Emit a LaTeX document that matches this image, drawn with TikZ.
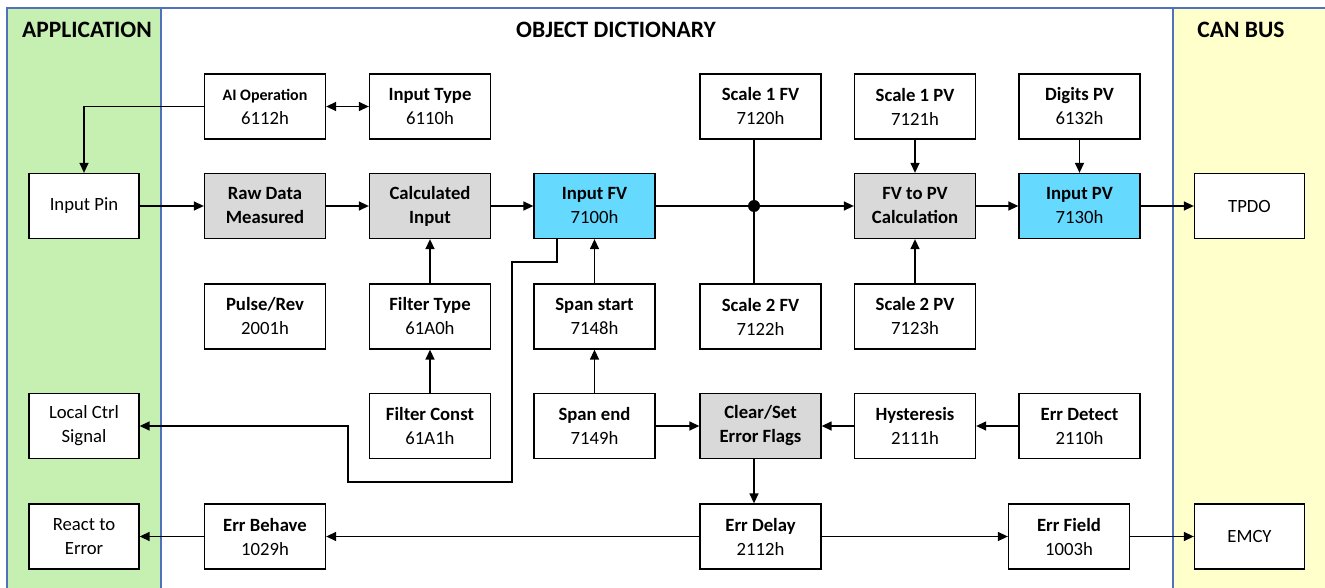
\documentclass[tikz,border=0pt]{standalone}
\usepackage{fontspec}
\setmainfont{Carlito}
\usetikzlibrary{arrows.meta,positioning}
\definecolor{appgreen}{RGB}{198,239,178}
\definecolor{busyellow}{RGB}{255,255,204}
\definecolor{frameblue}{RGB}{79,113,190}
\definecolor{calcgray}{RGB}{217,217,217}
\definecolor{fvblue}{RGB}{102,217,255}
\tikzset{
  obj/.style={draw,line width=1.3pt,fill=white,minimum width=121pt,
    minimum height=65pt,align=center,inner sep=0pt,
    font=\fontsize{18.7}{24}\selectfont},
  app/.style={obj,minimum width=110pt},
  calcbox/.style={obj,fill=calcgray},
  fvbox/.style={obj,fill=fvblue},
  title/.style={font=\fontsize{23.5}{26}\selectfont\bfseries},
  flow/.style={-{Triangle[length=10pt,width=9pt]},line width=1.4pt},
  both/.style={{Triangle[length=10pt,width=9pt]}-{Triangle[length=10pt,width=9pt]},line width=1.4pt},
  link/.style={line width=1.4pt}
}
\begin{document}
\begin{tikzpicture}[x=1pt,y=-1pt]
  \useasboundingbox (0,0) rectangle (1325,588);
  % panels
  \fill[white] (7,8) rectangle (1325,588);
  \draw[frameblue,line width=1.3pt,fill=appgreen] (7,596) |- (161,8) -- (161,596);
  \draw[frameblue,line width=1.3pt] (161,8) -- (1173,8);
  \draw[frameblue,line width=1.3pt,fill=busyellow] (1173,596) -- (1173,8) -- (1330,8) -- (1330,596);
  \node[title] (apptitle) at (87,30) {APPLICATION};
  \node[title] (odtitle) at (616,30) {OBJECT DICTIONARY};
  \node[title] (bustitle) at (1241,30) {CAN BUS};
  % row 1
  \node[obj] (aiop) at (265,106.5) {\fontsize{16}{24}\selectfont\textbf{AI Operation}\\6112h};
  \node[obj] (intype) at (430,106.5) {\textbf{Input Type}\\6110h};
  \node[obj] (sc1fv) at (760.5,106.5) {\textbf{Scale 1 FV}\\7120h};
  \node[obj] (sc1pv) at (915,106.5) {\textbf{Scale 1 PV}\\7121h};
  \node[obj] (digpv) at (1079.5,106.5) {\textbf{Digits PV}\\6132h};
  % row 2
  \node[app] (inpin) at (84,206) {Input Pin};
  \node[calcbox] (raw) at (265,206) {\textbf{Raw Data}\\\textbf{Measured}};
  \node[calcbox] (calcin) at (430,206) {\textbf{Calculated}\\\textbf{Input}};
  \node[fvbox] (infv) at (594.5,206) {\textbf{Input FV}\\7100h};
  \coordinate (jn) at (754,206);
  \node[calcbox] (fvpv) at (915,206) {\textbf{FV to PV}\\\textbf{Calculation}};
  \node[fvbox] (inpv) at (1079.5,206) {\textbf{Input PV}\\7130h};
  \node[app] (tpdo) at (1249.5,206) {TPDO};
  % row 3
  \node[obj] (pulse) at (265,316.5) {\textbf{Pulse/Rev}\\2001h};
  \node[obj] (filtype) at (430,316.5) {\textbf{Filter Type}\\61A0h};
  \node[obj] (spstart) at (594.5,316.5) {\textbf{Span start}\\7148h};
  \node[obj] (sc2fv) at (760.5,316.5) {\textbf{Scale 2 FV}\\7122h};
  \node[obj] (sc2pv) at (915,316.5) {\textbf{Scale 2 PV}\\7123h};
  % row 4
  \node[app] (locctrl) at (84,426) {Local Ctrl\\Signal};
  \node[obj] (filconst) at (430,426) {\textbf{Filter Const}\\61A1h};
  \node[obj] (spend) at (594.5,426) {\textbf{Span end}\\7149h};
  \node[calcbox] (errflags) at (760.5,426) {\textbf{Clear/Set}\\\textbf{Error Flags}};
  \node[obj] (hyst) at (915,426) {\textbf{Hysteresis}\\2111h};
  \node[obj] (errdet) at (1079.5,426) {\textbf{Err Detect}\\2110h};
  % row 5
  \node[app] (react) at (84,536.5) {React to\\Error};
  \node[obj] (errbeh) at (265,536.5) {\textbf{Err Behave}\\1029h};
  \node[obj] (errdel) at (760.5,536.5) {\textbf{Err Delay}\\2112h};
  \node[obj] (errfld) at (1069,536.5) {\textbf{Err Field}\\1003h};
  \node[app] (emcy) at (1249.5,536.5) {EMCY};
  % connectors
  \draw[flow] (aiop.west) -| (inpin.north);
  \draw[both] (aiop) -- (intype);
  \draw[flow] (inpin) -- (raw);
  \draw[flow] (raw) -- (calcin);
  \draw[flow] (calcin) -- (infv);
  \draw[flow] (filconst) -- (filtype);
  \draw[flow] (filtype) -- (calcin);
  \draw[flow] (spend) -- (spstart);
  \draw[flow] (spstart) -- (infv);
  \draw[flow] (infv) -- (fvpv);
  \draw[link] (sc1fv.south -| jn) -- (sc2fv.north -| jn);
  \fill (jn) circle (6);
  \draw[flow] (sc1pv) -- (fvpv);
  \draw[flow] (sc2pv) -- (fvpv);
  \draw[flow] (fvpv) -- (inpv);
  \draw[flow] (digpv) -- (inpv);
  \draw[flow] (inpv) -- (tpdo);
  \draw[flow] ([xshift=-37.5pt]infv.south) |- (512,262) |- (348,482) |- (locctrl.east);
  \draw[flow] (spend) -- (errflags);
  \draw[flow] (errdet) -- (hyst);
  \draw[flow] (hyst) -- (errflags);
  \draw[flow] (errflags.south -| jn) -- (errdel.north -| jn);
  \draw[flow] (errdel) -- (errbeh);
  \draw[flow] (errbeh) -- (react);
  \draw[flow] (errdel) -- (errfld);
  \draw[flow] (errfld) -- (emcy);
\end{tikzpicture}
\end{document}
